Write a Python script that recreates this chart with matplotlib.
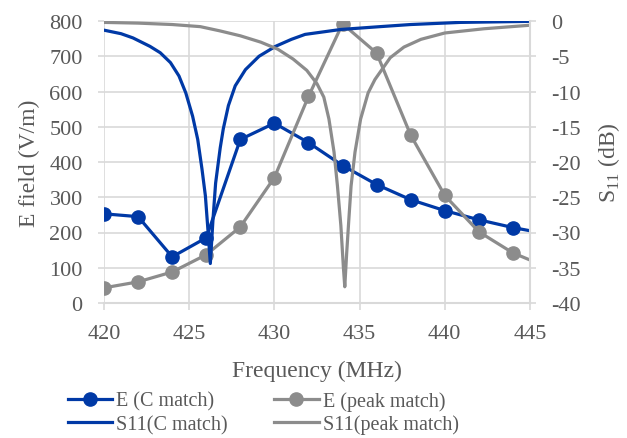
import matplotlib
matplotlib.use("Agg")
import matplotlib.pyplot as plt
from matplotlib.lines import Line2D

# E field at the measured frequencies (V/m)
freq_e = [420, 422, 424, 426, 428, 430, 432, 434, 436, 438, 440, 442, 444, 446]
e_c_match = [253, 245, 131, 185, 464, 510, 455, 390, 336, 293, 262, 236, 214, 196]
e_peak_match = [43, 60, 88, 137, 216, 356, 586, 792, 709, 476, 305, 202, 142, 102]

# S11 traces (dB)
freq_s11_c = [420, 421, 421.7, 422.7, 423.3, 423.9, 424.4, 424.8, 425.2, 425.5, 425.75,
              425.95, 426.08, 426.24, 426.4, 426.55, 426.82, 427.0, 427.3, 427.7, 428.3,
              429.1, 430.06, 431.0, 431.8, 433.9, 436.2, 438, 440.9, 445]
s11_c_match = [-1.3, -1.8, -2.4, -3.6, -4.5, -5.9, -7.8, -10.2, -13.5, -16.8, -21.0,
               -24.8, -29.0, -34.4, -28.0, -23.0, -18.0, -15.3, -12.0, -9.2, -6.9,
               -5.0, -3.6, -2.6, -1.9, -1.2, -0.8, -0.5, -0.2, -0.05]

freq_s11_p = [420, 422, 424, 425.65, 426.8, 428.0, 429.2, 430.2, 431.1, 431.9, 432.5,
              432.9, 433.2, 433.5, 433.7, 433.9, 434.05, 434.13, 434.24, 434.37, 434.5,
              434.73, 435.06, 435.5, 435.9, 436.8, 437.6, 438.6, 440, 442.3, 445]
s11_peak_match = [-0.2, -0.3, -0.5, -0.8, -1.4, -2.1, -3.0, -4.0, -5.4, -7.0, -8.9,
                  -10.8, -13.9, -18.6, -23.4, -29.0, -35.0, -37.7, -33.0, -28.1, -23.4,
                  -18.6, -13.9, -10.2, -8.3, -5.2, -3.7, -2.6, -1.7, -1.1, -0.6]

left_ticks = list(range(0, 801, 100))
right_ticks = list(range(-40, 1, 5))
x_ticks = [420, 425, 430, 435, 440, 445]

BLUE = "#0039A6"
GRAY = "#8C8C8C"
TXT = "#595959"
GRID = "#D9D9D9"

plt.rcParams["font.family"] = ["Liberation Serif", "DejaVu Serif"]
plt.rcParams["mathtext.fontset"] = "custom"
plt.rcParams["mathtext.rm"] = "Liberation Serif"
plt.rcParams["axes.unicode_minus"] = False

fig = plt.figure(figsize=(6.27, 4.39), dpi=100)
ax = fig.add_axes([104/627, 1 - 304/439, (530 - 104)/627, (304 - 22)/439])
ax2 = ax.twinx()

ax.plot(freq_e, e_c_match, color=BLUE, lw=2.3, marker="o", ms=9.5, zorder=3)
ax.plot(freq_e, e_peak_match, color=GRAY, lw=2.3, marker="o", ms=9.5, zorder=3)
ax2.plot(freq_s11_c, s11_c_match, color=BLUE, lw=2.3, solid_joinstyle="round")
ax2.plot(freq_s11_p, s11_peak_match, color=GRAY, lw=2.3, solid_joinstyle="round")

ax.set_xlim(420, 445)
ax.set_ylim(0, 800)
ax2.set_ylim(-40, 0)
ax.set_xticks(x_ticks)
ax.set_yticks(left_ticks)
ax2.set_yticks(right_ticks)

ax.grid(True, color=GRID, lw=1.2)
ax.set_axisbelow(True)
for a in (ax, ax2):
    for s in a.spines.values():
        s.set_visible(False)
ax.spines["bottom"].set_visible(True)
ax.spines["bottom"].set_color(GRID)
ax.spines["bottom"].set_linewidth(1.5)
ax2.spines["right"].set_visible(True)
ax2.spines["right"].set_color(GRID)
ax2.spines["right"].set_linewidth(1.5)

ax.tick_params(axis="y", colors=GRID, labelcolor=TXT, labelsize=16, length=4.3, width=1.2, pad=11)
ax.tick_params(axis="x", colors=GRID, labelcolor=TXT, labelsize=16, length=5, width=1.2, pad=10)
ax2.tick_params(axis="y", colors=GRID, labelcolor=TXT, labelsize=16, length=4, width=1.2, pad=11)

ax.set_xlabel("Frequency (MHz)", fontsize=17, color=TXT, labelpad=12)
ax.set_ylabel("E field (V/m)", fontsize=17, color=TXT, labelpad=7)
ax2.set_ylabel(r"S$_\mathregular{11}$ (dB)", fontsize=17, color=TXT, labelpad=11)

handles = [
    Line2D([], [], color=BLUE, lw=2.3, marker="o", ms=9.5),
    Line2D([], [], color=BLUE, lw=2.3),
    Line2D([], [], color=GRAY, lw=2.3, marker="o", ms=9.5),
    Line2D([], [], color=GRAY, lw=2.3),
]
labels = ["E (C match)", "S11(C match)", "E (peak match)", "S11(peak match)"]
leg = fig.legend(handles, labels, ncol=2, loc="upper left", bbox_to_anchor=(68/627, 1 - 392/439),
                 frameon=False, fontsize=14.5, handlelength=2.2, handletextpad=0.2,
                 columnspacing=2.3, labelspacing=0.2, borderpad=0, borderaxespad=0)
for t in leg.get_texts():
    t.set_color(TXT)

fig.savefig("out.png", dpi=100)
